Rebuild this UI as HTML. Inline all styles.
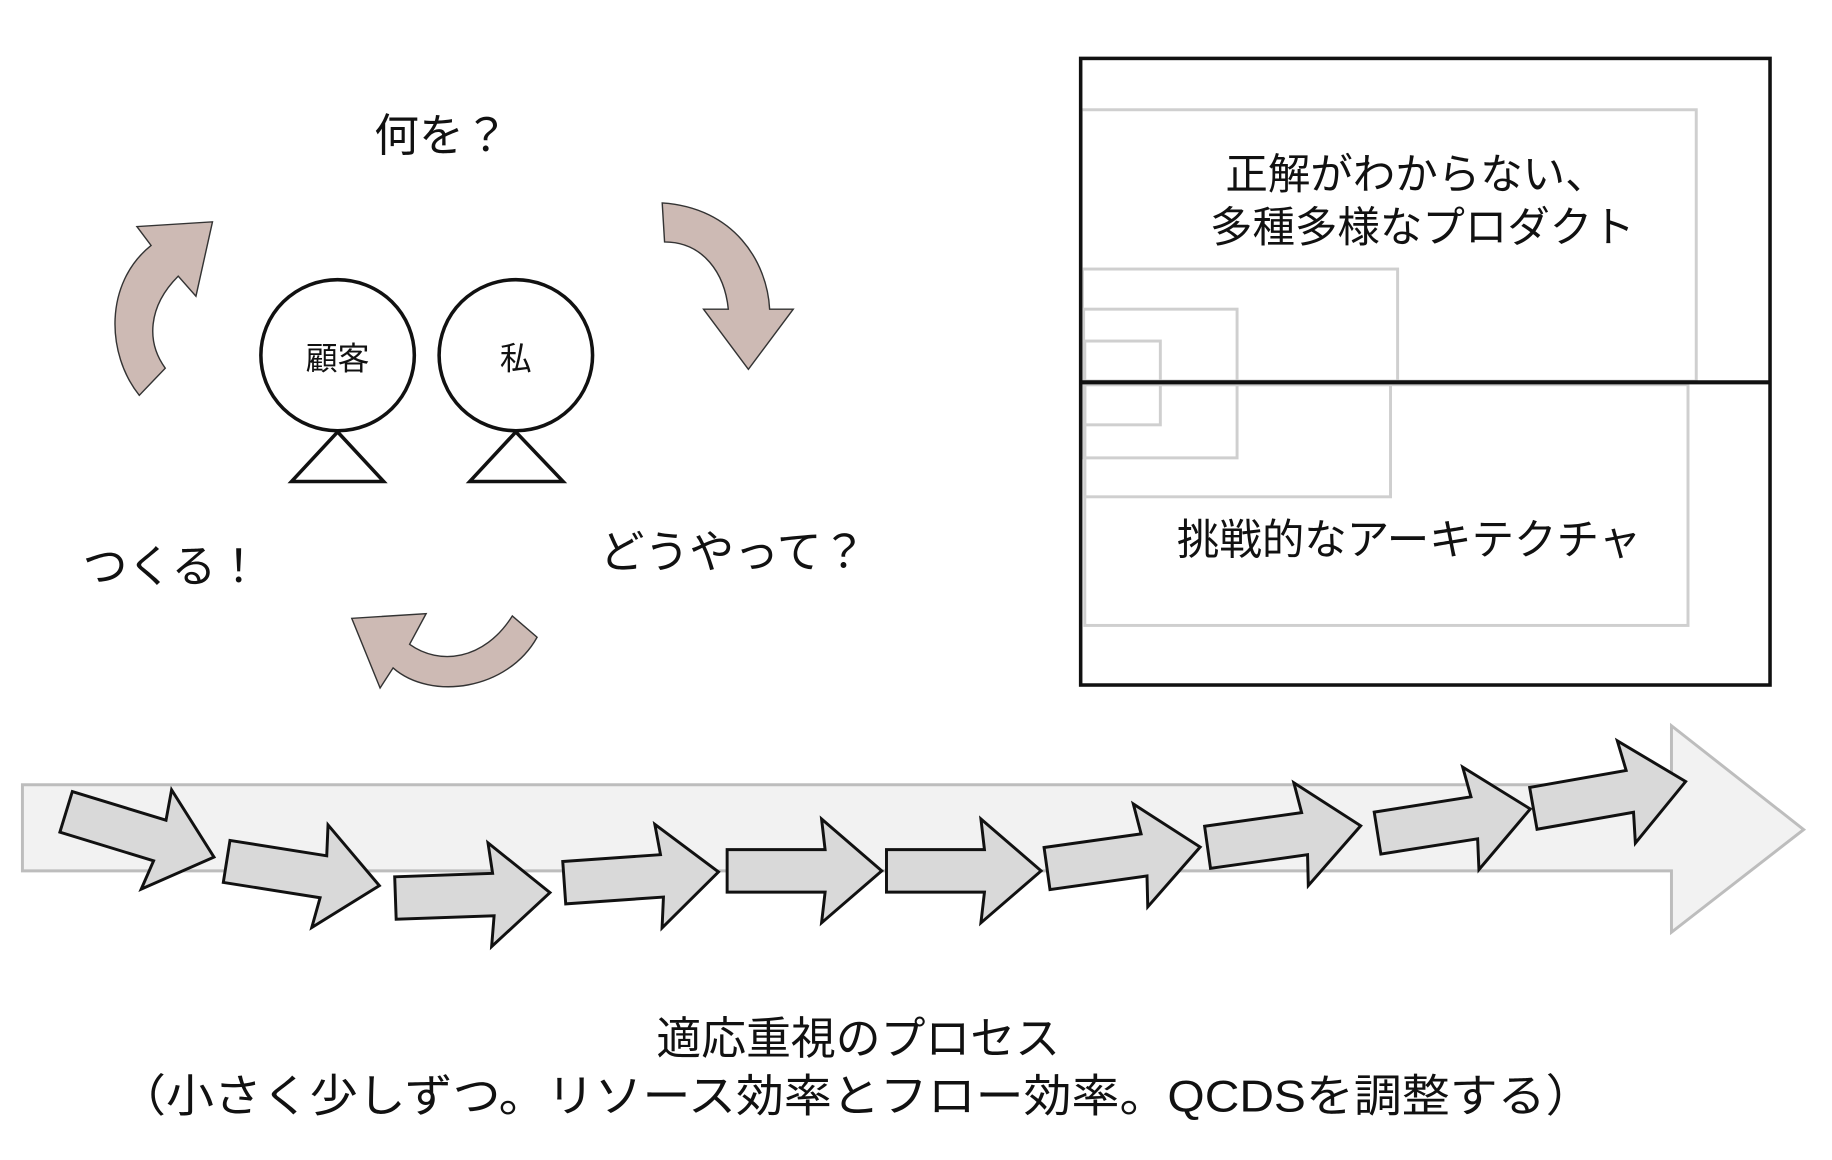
<!DOCTYPE html>
<html><head><meta charset="utf-8"><style>
html,body{margin:0;padding:0;background:#fff;}
svg{display:block;}
text{font-family:"Liberation Sans","Noto Sans CJK JP",sans-serif;fill:#111;}
</style></head><body>
<svg width="1832" height="1160" viewBox="0 0 1552 983" preserveAspectRatio="none" xmlns="http://www.w3.org/2000/svg">
<defs>
<path id="sa" d="M0,-18 L83,-18 L80,-44 L131,0 L80,44 L83,18 L0,18 Z" fill="#d9d9d9" stroke="#111" stroke-width="2.5" stroke-linejoin="miter"/>
</defs>
<!-- curved arrows -->
<g fill="#cdbab4" stroke="#333" stroke-width="1.2">
<path d="M561,172 C622,176 650,222 652,262 L672,262 L634,313 L596,262 L617,262 C614,232 596,205 563,205 Z"/>
<path d="M118,335 C90,300 88,240 128,208 L116,192 L180,188 L166,251 L151,234 C125,260 124,290 140,312 Z"/>
<path d="M455,540 C430,585 365,594 333,566 L322,583 L298,524 L361,520 L347,546 C372,564 410,560 434,522 Z"/>
</g>
<!-- people -->
<g fill="#fff" stroke="#111" stroke-width="3">
<ellipse cx="286" cy="301" rx="65" ry="64"/>
<ellipse cx="437" cy="301" rx="65" ry="64"/>
<path d="M286,366 L247,408 L325,408 Z"/>
<path d="M437,366 L398,408 L477,408 Z"/>
</g>
<text x="286" y="313" font-size="27" text-anchor="middle">顧客</text>
<text x="437" y="313" font-size="27" text-anchor="middle">私</text>
<text x="317" y="128" font-size="38">何を？</text>
<text x="70" y="493" font-size="38">つくる！</text>
<text x="508" y="481" font-size="38">どうやって？</text>
<!-- right box -->
<g fill="none" stroke="#cfcfcf" stroke-width="2.5">
<rect x="916" y="93" width="521" height="230"/>
<rect x="917" y="228" width="267" height="95"/>
<rect x="918" y="262" width="130" height="126"/>
<rect x="919" y="289" width="64" height="71"/>
<rect x="919" y="326" width="259" height="95"/>
<rect x="919" y="326" width="511" height="204"/>
</g>
<rect x="915.5" y="49.5" width="584" height="531" fill="none" stroke="#111" stroke-width="3"/>
<line x1="915" y1="324" x2="1500" y2="324" stroke="#111" stroke-width="3.5"/>
<text x="1200" y="160" font-size="36" text-anchor="middle">正解がわからない、</text>
<text x="1205" y="205" font-size="36" text-anchor="middle">多種多様なプロダクト</text>
<text x="997" y="470" font-size="36">挑戦的なアーキテクチャ</text>
<!-- big arrow -->
<path d="M19,665 L1416,665 L1416,615 L1528,703 L1416,790 L1416,738 L19,738 Z" fill="#f2f2f2" stroke="#bdbdbd" stroke-width="2.5"/>
<use href="#sa" transform="translate(56,688) rotate(17)"/>
<use href="#sa" transform="translate(192,730) rotate(9)"/>
<use href="#sa" transform="translate(335,761) rotate(-2)"/>
<use href="#sa" transform="translate(478,748) rotate(-4)"/>
<use href="#sa" transform="translate(616,738)"/>
<use href="#sa" transform="translate(751,738)"/>
<use href="#sa" transform="translate(887,736) rotate(-8)"/>
<use href="#sa" transform="translate(1023,718) rotate(-8)"/>
<use href="#sa" transform="translate(1167,706) rotate(-9)"/>
<use href="#sa" transform="translate(1299,685) rotate(-10)"/>
<text x="727" y="893" font-size="38" text-anchor="middle">適応重視のプロセス</text>
<text x="100" y="942" font-size="38" textLength="1250" lengthAdjust="spacingAndGlyphs">（小さく少しずつ。リソース効率とフロー効率。QCDSを調整する）</text>
</svg>
</body></html>
